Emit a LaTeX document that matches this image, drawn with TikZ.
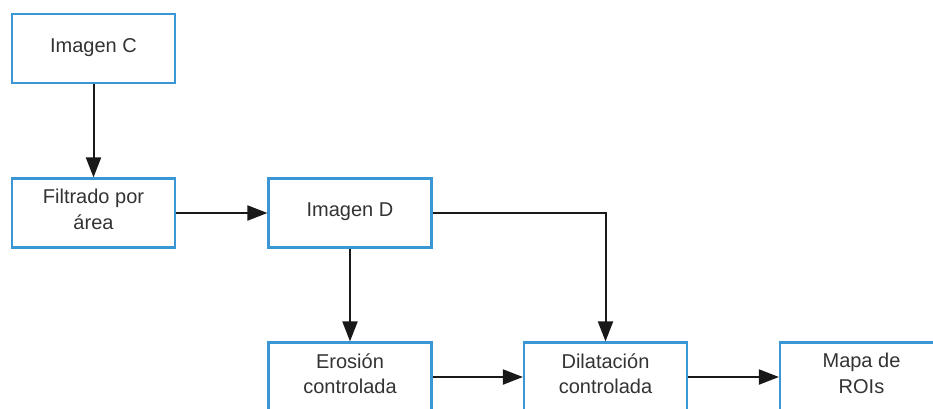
\documentclass[tikz,border=0pt]{standalone}
\usepackage{fontspec}
\setmainfont{Liberation Sans}
\usetikzlibrary{arrows.meta}
\definecolor{boxblue}{HTML}{3A96D4}
\definecolor{txtgray}{HTML}{333333}
\begin{document}
\begin{tikzpicture}[x=1pt,y=-1pt,
  procbox/.style={draw=boxblue, line width=2.2pt, fill=white, minimum width=163pt,
    minimum height=69pt, inner sep=0pt},
  proctext/.style={align=center, text=txtgray, inner sep=0pt, yshift=1pt,
    font=\fontsize{20}{25.5}\selectfont},
  proctwo/.style={proctext, yshift=2.5pt},
  flow/.style={line width=2pt, draw=black!90, -{Triangle[length=20pt,width=15pt]}}]
  \path[use as bounding box, clip] (0,0) rectangle (933,408);
  \fill[white] (0,0) rectangle (933,408);

  % process boxes; two-line captions sit a little above centre
  \node[procbox, label={[proctext]center:Imagen C}] (imgc) at (93.5,48.5) {};
  \node[procbox, label={[proctwo]center:Filtrado por\\área}] (filt) at (93.5,213) {};
  \node[procbox, label={[proctext]center:Imagen D}] (imgd) at (350,213) {};
  \node[procbox, label={[proctwo]center:Erosión\\controlada}] (eros) at (350,377) {};
  \node[procbox, label={[proctwo]center:Dilatación\\controlada}] (dila) at (605.5,377) {};
  \node[procbox, label={[proctwo]center:Mapa de\\ROIs}] (mapa) at (861.5,377) {};

  % connectors
  \draw[flow] (imgc) -- (filt);
  \draw[flow] (filt) -- (imgd);
  \draw[flow] (imgd) -- (eros);
  \draw[flow] (imgd.east) -| (dila.north);
  \draw[flow] (eros) -- (dila);
  \draw[flow] (dila) -- (mapa);
\end{tikzpicture}
\end{document}
